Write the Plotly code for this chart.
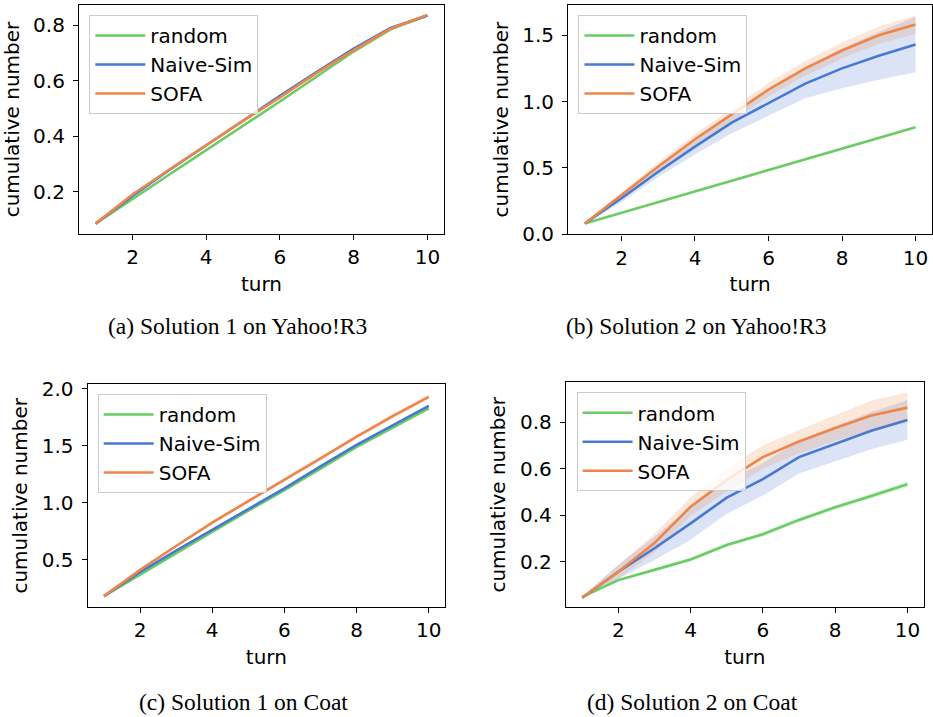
import plotly.graph_objects as go

turns = [1, 2, 3, 4, 5, 6, 7, 8, 9, 10]
methods = ["random", "Naive-Sim", "SOFA"]
colors = ["#6acc64", "#4878d0", "#ee854a"]
fills = ["rgba(106,204,100,0.2)", "rgba(72,120,208,0.2)", "rgba(238,133,74,0.2)"]

# (a) Solution 1 on Yahoo!R3
a_random = [0.085, 0.175, 0.262, 0.35, 0.437, 0.525, 0.615, 0.705, 0.785, 0.835]
a_naive = [0.085, 0.185, 0.278, 0.368, 0.455, 0.545, 0.632, 0.715, 0.79, 0.835]
a_sofa = [0.085, 0.19, 0.28, 0.368, 0.455, 0.54, 0.628, 0.71, 0.787, 0.837]
a_random_std = [0.001, 0.002, 0.002, 0.003, 0.003, 0.003, 0.003, 0.003, 0.003, 0.003]
a_naive_std = [0.001, 0.002, 0.003, 0.003, 0.003, 0.004, 0.004, 0.004, 0.004, 0.004]
a_sofa_std = [0.001, 0.002, 0.003, 0.003, 0.003, 0.004, 0.004, 0.004, 0.004, 0.004]

# (b) Solution 2 on Yahoo!R3
b_random = [0.08, 0.16, 0.24, 0.32, 0.40, 0.48, 0.56, 0.64, 0.72, 0.805]
b_naive = [0.08, 0.27, 0.47, 0.66, 0.84, 0.985, 1.135, 1.25, 1.345, 1.43]
b_sofa = [0.08, 0.295, 0.51, 0.715, 0.9, 1.09, 1.25, 1.385, 1.5, 1.58]
b_random_std = [0.003, 0.004, 0.005, 0.005, 0.006, 0.006, 0.006, 0.007, 0.007, 0.007]
b_naive_std = [0.005, 0.03, 0.04, 0.06, 0.08, 0.09, 0.11, 0.15, 0.18, 0.21]
b_sofa_std = [0.005, 0.02, 0.03, 0.04, 0.05, 0.05, 0.055, 0.06, 0.065, 0.07]

# (c) Solution 1 on Coat
c_random = [0.18, 0.37, 0.56, 0.745, 0.93, 1.11, 1.3, 1.49, 1.66, 1.83]
c_naive = [0.18, 0.39, 0.58, 0.76, 0.945, 1.127, 1.32, 1.508, 1.68, 1.85]
c_sofa = [0.18, 0.41, 0.62, 0.825, 1.015, 1.2, 1.39, 1.58, 1.76, 1.93]
c_random_std = [0.003, 0.008, 0.01, 0.012, 0.013, 0.014, 0.015, 0.015, 0.016, 0.016]
c_naive_std = [0.003, 0.006, 0.008, 0.009, 0.01, 0.01, 0.011, 0.012, 0.012, 0.013]
c_sofa_std = [0.003, 0.01, 0.012, 0.015, 0.016, 0.018, 0.018, 0.019, 0.02, 0.02]

# (d) Solution 2 on Coat
d_random = [0.049, 0.121, 0.165, 0.21, 0.272, 0.318, 0.38, 0.434, 0.483, 0.533]
d_naive = [0.045, 0.157, 0.258, 0.365, 0.476, 0.555, 0.65, 0.707, 0.764, 0.81]
d_sofa = [0.045, 0.157, 0.28, 0.437, 0.552, 0.65, 0.717, 0.775, 0.829, 0.863]
d_random_std = [0.003, 0.005, 0.006, 0.008, 0.008, 0.009, 0.01, 0.01, 0.012, 0.012]
d_naive_std = [0.005, 0.03, 0.05, 0.07, 0.07, 0.07, 0.07, 0.075, 0.08, 0.085]
d_sofa_std = [0.005, 0.03, 0.04, 0.04, 0.05, 0.05, 0.05, 0.055, 0.065, 0.065]

captions = ["(a) Solution 1 on Yahoo!R3", "(b) Solution 2 on Yahoo!R3",
            "(c) Solution 1 on Coat", "(d) Solution 2 on Coat"]

panels = [
    ([a_random, a_naive, a_sofa], [a_random_std, a_naive_std, a_sofa_std]),
    ([b_random, b_naive, b_sofa], [b_random_std, b_naive_std, b_sofa_std]),
    ([c_random, c_naive, c_sofa], [c_random_std, c_naive_std, c_sofa_std]),
    ([d_random, d_naive, d_sofa], [d_random_std, d_naive_std, d_sofa_std]),
]

# layout of each panel: x domain, y domain, y range, y ticks, legend anchor, caption pos
xdoms = [[0.0847, 0.4759], [0.609, 0.999], [0.094, 0.477], [0.6066, 0.990]]
ydoms = [[0.6736, 0.993], [0.673, 0.9934], [0.153, 0.464], [0.153, 0.4668]]
yranges = [[0.0475, 0.8725], [-0.003, 1.73], [0.082, 2.04], [0.004, 0.972]]
yticks = [[0.2, 0.4, 0.6, 0.8], [0.0, 0.5, 1.0, 1.5], [0.5, 1.0, 1.5, 2.0], [0.2, 0.4, 0.6, 0.8]]
legpos = [(0.0957, 0.979), (0.62, 0.979), (0.1047, 0.4505), (0.618, 0.4529)]
cappos = [(0.255, 0.545), (0.747, 0.545), (0.261, 0.021), (0.742, 0.021)]

fig = go.Figure()
font = dict(family="DejaVu Sans", size=20, color="black")

for p, (means, stds) in enumerate(panels):
    ax = "" if p == 0 else str(p + 1)
    leg = "legend" if p == 0 else "legend" + str(p + 1)
    for k in range(3):
        upper = [m + s for m, s in zip(means[k], stds[k])]
        lower = [m - s for m, s in zip(means[k], stds[k])]
        fig.add_trace(go.Scatter(x=turns, y=upper, xaxis="x" + ax, yaxis="y" + ax,
                                 mode="lines", line=dict(width=0), showlegend=False,
                                 hoverinfo="skip"))
        fig.add_trace(go.Scatter(x=turns, y=lower, xaxis="x" + ax, yaxis="y" + ax,
                                 mode="lines", line=dict(width=0), fill="tonexty",
                                 fillcolor=fills[k], showlegend=False, hoverinfo="skip"))
    for k in range(3):
        fig.add_trace(go.Scatter(x=turns, y=means[k], xaxis="x" + ax, yaxis="y" + ax,
                                 mode="lines", name=methods[k], legend=leg,
                                 legendgroup=leg + methods[k],
                                 line=dict(color=colors[k], width=2.6)))

    axis_common = dict(showline=True, linecolor="black", linewidth=1.3, mirror=True,
                       ticks="outside", ticklen=5, tickwidth=1.1, tickcolor="black",
                       showgrid=False, zeroline=False, tickfont=font, automargin=False)
    fig.layout["xaxis" + ax] = dict(domain=xdoms[p], anchor="y" + ax, range=[0.55, 10.45],
                                    tickvals=[2, 4, 6, 8, 10],
                                    title=dict(text="turn", font=font, standoff=8),
                                    **axis_common)
    fig.layout["yaxis" + ax] = dict(domain=ydoms[p], anchor="x" + ax, range=yranges[p],
                                    tickvals=yticks[p], tickformat=".1f", ticklabelstandoff=4,
                                    title=dict(text="cumulative number", font=font, standoff=8),
                                    **axis_common)
    fig.layout[leg] = dict(x=legpos[p][0], y=legpos[p][1], xanchor="left", yanchor="top",
                           xref="paper", yref="paper", font=font, itemwidth=50,
                           bgcolor="rgba(255,255,255,0.8)", bordercolor="#cccccc",
                           borderwidth=1, tracegroupgap=0)
    fig.add_annotation(text=captions[p], x=cappos[p][0], y=cappos[p][1],
                       xref="paper", yref="paper", showarrow=False,
                       xanchor="center", yanchor="middle",
                       font=dict(family="Liberation Serif", size=23.5, color="black"))

fig.update_layout(width=933, height=717, margin=dict(l=0, r=0, t=0, b=0),
                  plot_bgcolor="white", paper_bgcolor="white", font=font)

# drop the page's default body margin so the figure sits at the window corner
fig.write_html("out.html", config={"displayModeBar": False},
               post_script="document.body.style.margin='0';")
